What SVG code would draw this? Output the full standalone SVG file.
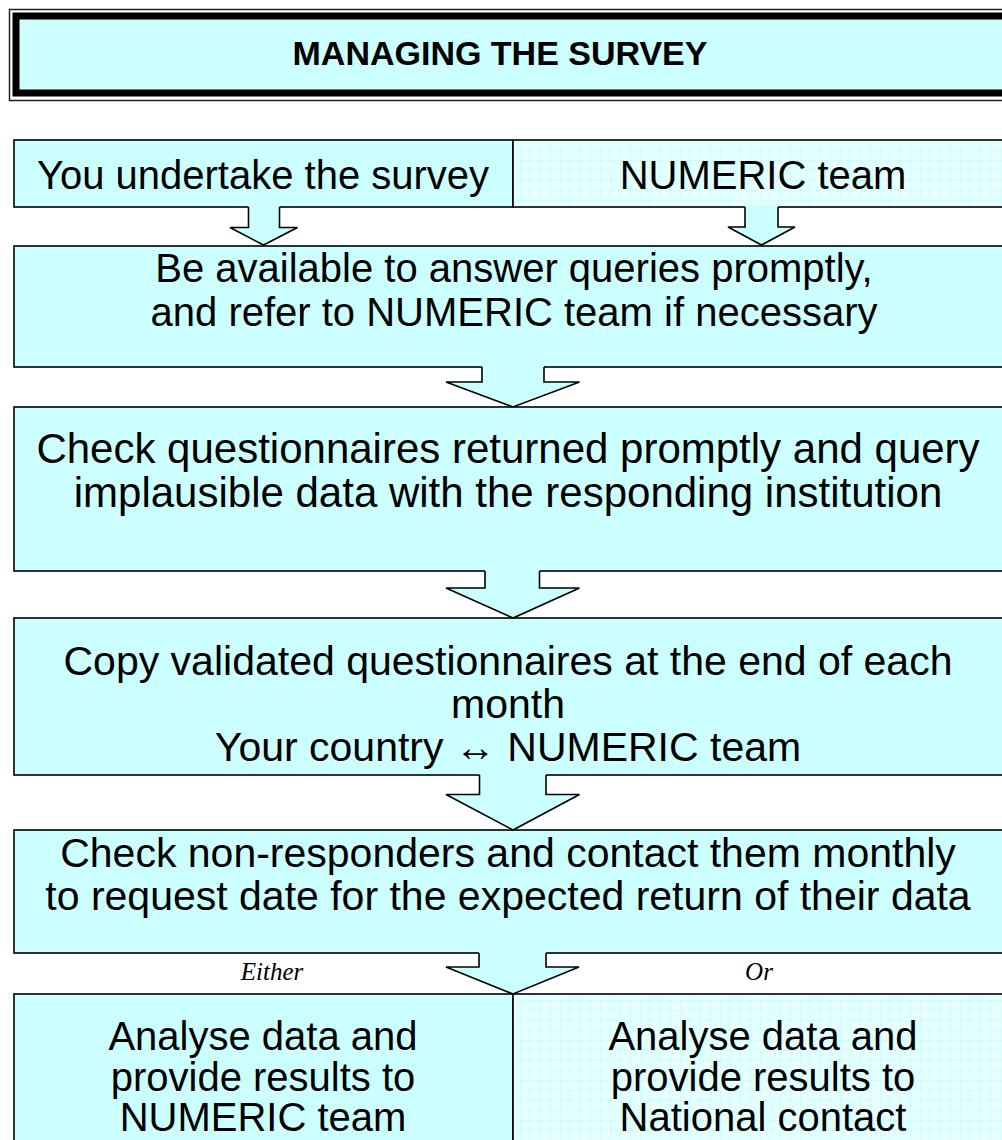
<svg xmlns="http://www.w3.org/2000/svg" width="1002" height="1140" viewBox="0 0 1002 1140">
<style>
.box{fill:#ccffff;stroke:#000;stroke-width:1.6}
.grid{fill:url(#grid);stroke:#000;stroke-width:1.6}
.t{font-family:"Liberation Sans",Arial,sans-serif;fill:#000;text-anchor:middle}
.f40{font-size:40px}
.f42{font-size:42px}
.f41{font-size:41px}
.lab{font-family:"Liberation Serif","Times New Roman",serif;font-style:italic;font-size:25px;text-anchor:middle;fill:#000}
.arrFill{fill:#ccffff;stroke:none}
.arrLine{fill:none;stroke:#000;stroke-width:1.6;stroke-linejoin:miter}
</style>
<defs>
<pattern id="grid" patternUnits="userSpaceOnUse" width="10" height="10">
<rect width="10" height="10" fill="#e6ffff"/>
<path d="M0 0.5H10M0.5 0V10" stroke="#ccffff" stroke-width="1"/>
</pattern>
</defs>
<rect width="1002" height="1140" fill="#fff"/>

<g id="title">
<rect x="9.5" y="9.5" width="1010" height="91" fill="#fff" stroke="#222" stroke-width="1.5"/>
<rect x="16" y="16" width="1000" height="77" fill="#ccffff" stroke="#000" stroke-width="7"/>
<text class="t" x="500" y="65" style="font-size:34px;font-weight:bold">MANAGING THE SURVEY</text>
</g>

<g id="you-undertake">
<rect class="box" x="14" y="140" width="499" height="67"/>
<text class="t f40" x="263" y="189">You undertake the survey</text>
</g>
<g id="numeric-team">
<rect class="grid" x="513" y="140" width="510" height="67"/>
<text class="t f40" x="763" y="189">NUMERIC team</text>
</g>

<g id="answer-queries">
<rect class="box" x="14" y="246" width="1010" height="121"/>
<text class="t f40" x="514" y="282">Be available to answer queries promptly,</text>
<text class="t f40" x="514" y="326">and refer to NUMERIC team if necessary</text>
</g>

<g id="check-questionnaires">
<rect class="box" x="14" y="407" width="1010" height="164"/>
<text class="t f42" x="508" y="463">Check questionnaires returned promptly and query</text>
<text class="t f42" x="508" y="507">implausible data with the responding institution</text>
</g>

<g id="copy-validated">
<rect class="box" x="14" y="618" width="1010" height="157"/>
<text class="t f41" x="508" y="675">Copy validated questionnaires at the end of each</text>
<text class="t f41" x="508" y="718">month</text>
<text class="t f41" x="508" y="761">Your country ↔ NUMERIC team</text>
</g>

<g id="check-nonresponders">
<rect class="box" x="14" y="830" width="1010" height="123"/>
<text class="t f41" x="508" y="867">Check non-responders and contact them monthly</text>
<text class="t f41" x="508" y="910">to request date for the expected return of their data</text>
</g>

<g id="analyse-numeric">
<rect class="box" x="14" y="994" width="499" height="170"/>
<text class="t f40" x="263" y="1050">Analyse data and</text>
<text class="t f40" x="263" y="1091">provide results to</text>
<text class="t f40" x="263" y="1131">NUMERIC team</text>
</g>
<g id="analyse-national">
<rect class="grid" x="513" y="994" width="510" height="170"/>
<text class="t f40" x="763" y="1050">Analyse data and</text>
<text class="t f40" x="763" y="1091">provide results to</text>
<text class="t f40" x="763" y="1131">National contact</text>
</g>

<g id="connectors">
<path class="arrFill" d="M248.5 205.5V227.5H230L263.5 245L297.5 227.5H279.5V205.5Z"/>
<path class="arrLine" d="M248.5 207V227.5H230L263.5 245L297.5 227.5H279.5V207"/>
<path class="arrFill" d="M745 205.5V227H728L761.5 245L795 227H778V205.5Z"/>
<path class="arrLine" d="M745 207V227H728L761.5 245L795 227H778V207"/>
<path class="arrFill" d="M482 365.5V382H446L513 407L579.5 382H544V365.5Z"/>
<path class="arrLine" d="M482 367V382H446L513 407L579.5 382H544V367"/>
<path class="arrFill" d="M485 569.5V588H446L513 618L579.5 588H539.5V569.5Z"/>
<path class="arrLine" d="M485 571V588H446L513 618L579.5 588H539.5V571"/>
<path class="arrFill" d="M479.5 773.5V794.5H446L513 830L579.5 794.5H546V773.5Z"/>
<path class="arrLine" d="M479.5 775V794.5H446L513 830L579.5 794.5H546V775"/>
<path class="arrFill" d="M479 951.5V967H446L513 994L579 967H546V951.5Z"/>
<path class="arrLine" d="M479 953V967H446L513 994L579 967H546V953"/>
</g>

<g id="labels">
<text class="lab" x="272" y="980">Either</text>
<text class="lab" x="759" y="980">Or</text>
</g>
</svg>
